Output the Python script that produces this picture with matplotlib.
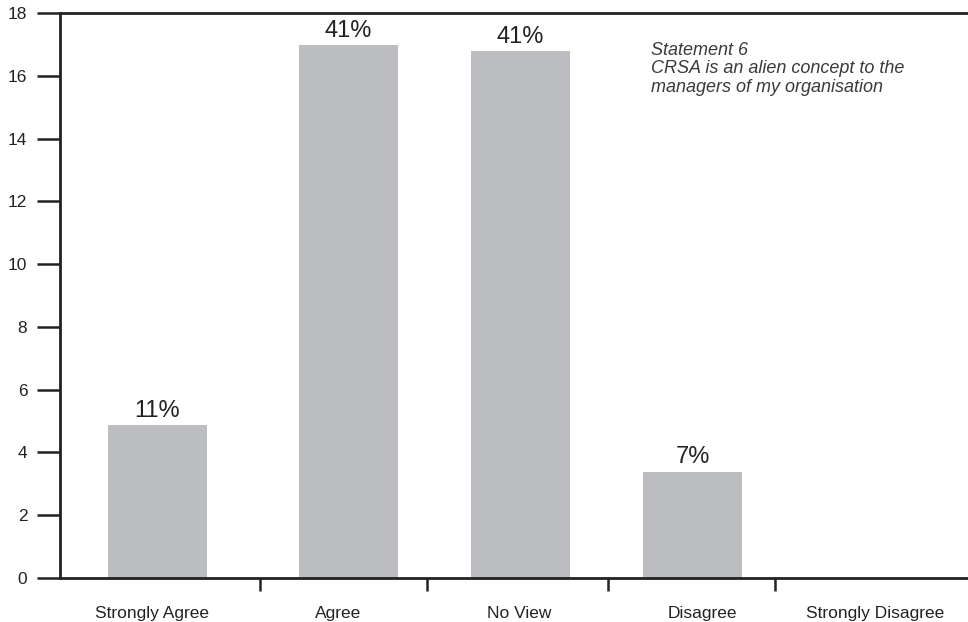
import numpy as np
import matplotlib.pyplot as plt

plt.rcParams['font.family'] = ['Liberation Sans', 'DejaVu Sans']

categories = ["Strongly Agree", "Agree", "No View", "Disagree", "Strongly Disagree"]
counts = [4.86, 16.97, 16.8, 3.39, 0]
pct_labels = ["11%", "41%", "41%", "7%", ""]
statement = "Statement 6\nCRSA is an alien concept to the\nmanagers of my organisation"

# layout: bar centres, category label centres and separator ticks (category units)
bar_pos = np.arange(len(categories)) + np.array([-0.11, 0, 0, 0, 0])
label_pos = np.arange(len(categories)) + np.array([-0.14, -0.06, -0.01, 0.06, 0.06])
sep_pos = [0.486, 1.457, 2.509, 3.48]

fig = plt.figure(figsize=(9.68, 6.22), dpi=100)
ax = fig.add_axes([60 / 968, 1 - 578 / 622, 908 / 968, 565 / 622])

bars = ax.bar(bar_pos, counts, width=0.575, color='#bcbdc1')
for b, lab in zip(bars, pct_labels):
    if lab:
        ax.text(b.get_x() + b.get_width() / 2, b.get_height() + 0.1, lab,
                ha='center', va='bottom', fontsize=17, color='#222222')

ax.set_xlim(-0.677, 4.602)
ax.set_ylim(0, 18)
ax.set_yticks(range(0, 19, 2))

ax.set_xticks(sep_pos)
ax.set_xticklabels([])
ax.set_xticks(label_pos, minor=True)
ax.set_xticklabels(categories, minor=True)
ax.tick_params(axis='x', which='major', direction='out', length=9, width=1.8, color='#222222')
ax.tick_params(axis='x', which='minor', length=0, pad=20, labelsize=12.5, labelcolor='#222222')
ax.tick_params(axis='y', direction='out', length=16.5, width=1.8, pad=7,
               labelsize=12.5, labelcolor='#222222', color='#222222')

for side in ['left', 'bottom', 'top']:
    ax.spines[side].set_linewidth(2)
    ax.spines[side].set_color('#222222')
ax.spines['right'].set_visible(False)

ax.text(0.651, 0.949, statement, transform=ax.transAxes, ha='left', va='top',
        fontsize=13, style='italic', color='#3a3a3a', linespacing=1.12)

fig.savefig('out.png', dpi=100)
